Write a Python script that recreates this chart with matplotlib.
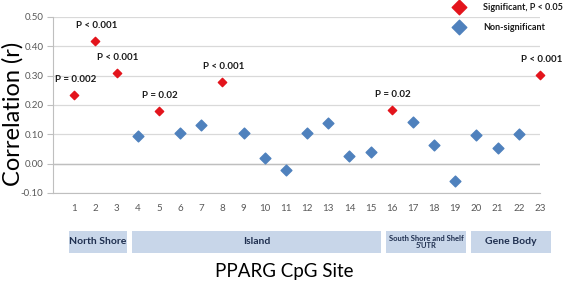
import matplotlib
matplotlib.use("Agg")
import matplotlib.pyplot as plt
import matplotlib.transforms as mtransforms
from matplotlib.patches import Rectangle

plt.rcParams['font.family'] = ['Lato', 'DejaVu Sans']

sites = list(range(1, 24))
correlation = [0.235, 0.417, 0.309, 0.094, 0.178, 0.104, 0.133, 0.278, 0.103, 0.018,
               -0.020, 0.104, 0.140, 0.026, 0.040, 0.183, 0.142, 0.062, -0.060, 0.097,
               0.052, 0.100, 0.302]
significant = [True, True, True, False, True, False, False, True, False, False,
               False, False, False, False, False, True, False, False, False, False,
               False, False, True]
pvalue_labels = {1: "P = 0.002", 2: "P < 0.001", 3: "P < 0.001", 5: "P = 0.02",
                 8: "P < 0.001", 16: "P = 0.02", 23: "P < 0.001"}
regions = [("North Shore", 1, 3), ("Island", 4, 15),
           ("South Shore and Shelf\n5'UTR", 16, 19), ("Gene Body", 20, 23)]
yticks = [-0.10, 0.00, 0.10, 0.20, 0.30, 0.40, 0.50]

RED = "#e3141c"
BLUE = "#4f81bd"

fig = plt.figure(figsize=(5.67, 2.83), dpi=100)
ax = fig.add_axes([53/567, 1-193/283, (540-53)/567, (193-17)/283])
ax.set_xlim(0, 23)
ax.set_ylim(-0.1, 0.5)
ax.set_yticks(yticks)
ax.set_yticklabels([f"{v:.2f}" for v in yticks], fontsize=7, color="#595959")
ax.set_xticks(sites)
ax.set_xticklabels([str(s) for s in sites], fontsize=7, color="#595959")
ax.tick_params(axis='x', length=0, pad=8)
ax.tick_params(axis='y', length=4, color="#bfbfbf", pad=3)
ax.grid(axis='y', color="#d9d9d9", linewidth=0.9)
ax.set_axisbelow(True)
for s in ['top', 'right']:
    ax.spines[s].set_visible(False)
ax.spines['left'].set_color("#bfbfbf")
ax.spines['bottom'].set_color("#bfbfbf")
ax.axhline(0, color="#bfbfbf", linewidth=1.0, zorder=1)

sx = [s for s, g in zip(sites, significant) if g]
sy = [c for c, g in zip(correlation, significant) if g]
nx = [s for s, g in zip(sites, significant) if not g]
ny = [c for c, g in zip(correlation, significant) if not g]
ax.scatter(nx, ny, marker='D', s=30, color=BLUE, zorder=3, clip_on=False)
ax.scatter(sx, sy, marker='D', s=18, color=RED, zorder=3, clip_on=False)

for s, lab in pvalue_labels.items():
    ax.annotate(lab, (s, correlation[s-1]), xytext=(1, 8), textcoords='offset points',
                ha='center', va='bottom', fontsize=7, fontweight='bold', color="#1a1a1a")

fig.text(13/567, 1-114/283, "Correlation (r)", rotation=90, ha='center', va='center',
         fontsize=17)

# region boxes
trans = mtransforms.blended_transform_factory(ax.transData, fig.transFigure)
y0 = 1 - 253.3/283
h = (253.3 - 230.7)/283
for name, a, b in regions:
    x0 = a - 0.25
    x1 = b + 0.5
    ax.add_patch(Rectangle((x0, y0), x1 - x0, h, transform=trans, facecolor="#c8d6e9",
                           edgecolor="none", clip_on=False))
    fs = 5.5 if "\n" in name else 7.5
    ax.text((x0 + x1)/2, y0 + h/2, name, transform=trans, ha='center', va='center',
            fontsize=fs, fontweight='bold', color="#1f2f4f", linespacing=1.1)

fig.text(284/567, 1-272/283, "PPARG CpG Site", ha='center', va='center', fontsize=13.5)

# legend
ax2 = fig.add_axes([0, 0, 1, 1], facecolor='none')
ax2.set_xlim(0, 567)
ax2.set_ylim(283, 0)
ax2.axis('off')
ax2.scatter([459], [7], marker='D', s=55, color=RED, clip_on=False)
ax2.scatter([459], [27], marker='D', s=55, color=BLUE, clip_on=False)
ax2.text(483, 7, "Significant, P < 0.05", fontsize=6.5, fontweight='bold', va='center', color="#1a1a1a")
ax2.text(483, 27, "Non-significant", fontsize=6.5, fontweight='bold', va='center', color="#1a1a1a")

fig.savefig("out.png", dpi=100)
